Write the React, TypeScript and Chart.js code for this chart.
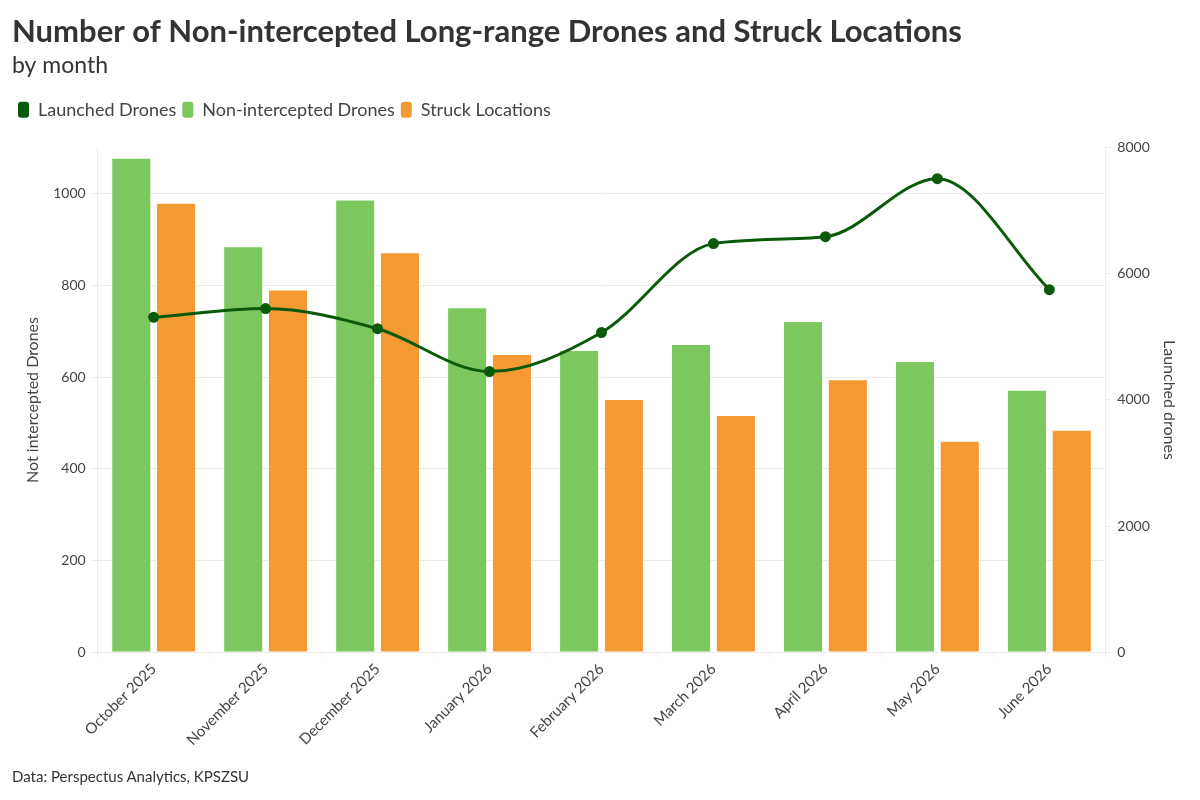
import React, { useRef, useEffect } from 'react';
import Chart from 'chart.js/auto';

// data
const months = [
  'October 2025', 'November 2025', 'December 2025', 'January 2026', 'February 2026',
  'March 2026', 'April 2026', 'May 2026', 'June 2026',
];
const launchedDrones = [5310, 5450, 5130, 4450, 5070, 6480, 6590, 7510, 5750];
const nonIntercepted = [1076, 883, 985, 750, 657, 670, 720, 633, 570];
const struckLocations = [978, 789, 870, 648, 550, 515, 593, 459, 483];
const leftTicks = [0, 200, 400, 600, 800, 1000];
const rightTicks = [0, 2000, 4000, 6000, 8000];

const FONT = 'Lato, "Noto Sans", sans-serif';
const TEXT = '#444444';
const GRID = '#ececec';

// extra room under the legend
const legendSpacer = {
  id: 'legendSpacer',
  beforeInit(chart: any) {
    const origFit = chart.legend.fit;
    chart.legend.fit = function fit() {
      origFit.bind(chart.legend)();
      this.height += 19;
    };
  },
};

const App: React.FC = () => {
  const canvasRef = useRef<HTMLCanvasElement>(null);
  const chartRef = useRef<Chart | null>(null);

  useEffect(() => {
    if (!canvasRef.current) return;
    document.body.style.margin = '0';
    if (chartRef.current) chartRef.current.destroy();

    const ctx = canvasRef.current.getContext('2d')!;
    chartRef.current = new Chart(ctx, {
      type: 'bar',
      plugins: [legendSpacer],
      data: {
        labels: months,
        datasets: [
          {
            type: 'line',
            label: 'Launched Drones',
            data: launchedDrones,
            yAxisID: 'y1',
            borderColor: '#0b5a0b',
            backgroundColor: '#0b5a0b',
            borderWidth: 3,
            pointRadius: 4,
            pointBackgroundColor: '#0b5a0b',
            cubicInterpolationMode: 'monotone',
            order: 0,
          },
          {
            label: 'Non-intercepted Drones',
            data: nonIntercepted,
            yAxisID: 'y',
            backgroundColor: '#7cc85f',
            barPercentage: 0.85,
            categoryPercentage: 0.8,
            order: 1,
          },
          {
            label: 'Struck Locations',
            data: struckLocations,
            yAxisID: 'y',
            backgroundColor: '#f39a33',
            barPercentage: 0.85,
            categoryPercentage: 0.8,
            order: 1,
          },
        ],
      } as any,
      options: {
        responsive: false,
        animation: false,
        layout: { padding: { left: 12, right: 17, top: 0, bottom: 48 } },
        plugins: {
          tooltip: { enabled: false },
          title: {
            display: true,
            text: 'Number of Non-intercepted Long-range Drones and Struck Locations',
            align: 'start',
            color: '#333333',
            font: { family: FONT, size: 31, weight: 'bold' },
            padding: { top: 13, bottom: 0 },
          },
          subtitle: {
            display: true,
            text: 'by month',
            align: 'start',
            color: '#333333',
            font: { family: FONT, size: 23 },
            padding: { top: 2, bottom: 15 },
          },
          legend: {
            position: 'top',
            align: 'start',
            labels: {
              color: TEXT,
              font: { family: FONT, size: 18 },
              boxWidth: 11,
              boxHeight: 16,
              useBorderRadius: true,
              borderRadius: 3,
              padding: 6,
              generateLabels: (chart: any) =>
                Chart.defaults.plugins.legend.labels
                  .generateLabels(chart)
                  .map((item: any) => ({ ...item, lineWidth: 0, strokeStyle: 'transparent' })),
            },
          },
        },
        scales: {
          x: {
            grid: { display: true, drawOnChartArea: false, drawTicks: true, tickLength: 5, color: GRID },
            border: { color: GRID },
            ticks: {
              color: TEXT,
              font: { family: FONT, size: 15 },
              maxRotation: 45,
              minRotation: 45,
            },
          },
          y: {
            position: 'left',
            min: 0,
            max: 1100,
            afterBuildTicks: (axis: any) => {
              axis.ticks = leftTicks.map((v) => ({ value: v }));
            },
            grid: { color: GRID, tickLength: 6 },
            border: { color: GRID },
            ticks: {
              color: TEXT,
              font: { family: FONT, size: 14 },
              padding: 6,
              callback: (v: any) => String(v),
            },
            title: {
              display: true,
              text: 'Not intercepted Drones',
              color: TEXT,
              font: { family: FONT, size: 16 },
              padding: { top: 11, bottom: 5 },
            },
          },
          y1: {
            position: 'right',
            min: 0,
            max: 8000,
            afterBuildTicks: (axis: any) => {
              axis.ticks = rightTicks.map((v) => ({ value: v }));
            },
            grid: { drawOnChartArea: false, color: GRID, tickLength: 6 },
            border: { color: GRID },
            ticks: {
              color: TEXT,
              font: { family: FONT, size: 14 },
              padding: 6,
              callback: (v: any) => String(v),
            },
            title: {
              display: true,
              text: 'Launched drones',
              color: TEXT,
              font: { family: FONT, size: 16 },
            },
          },
        },
      },
    });

    return () => {
      if (chartRef.current) {
        chartRef.current.destroy();
        chartRef.current = null;
      }
    };
  }, []);

  return (
    <div style={{ position: 'relative', width: 1200, height: 800, background: '#ffffff' }}>
      <canvas ref={canvasRef} width={1200} height={800} style={{ width: 1200, height: 800 }} />
      <div
        style={{
          position: 'absolute',
          left: 12,
          top: 767,
          fontFamily: FONT,
          fontSize: 15,
          color: '#333333',
        }}
      >
        Data: Perspectus Analytics, KPSZSU
      </div>
    </div>
  );
};

export default App;
